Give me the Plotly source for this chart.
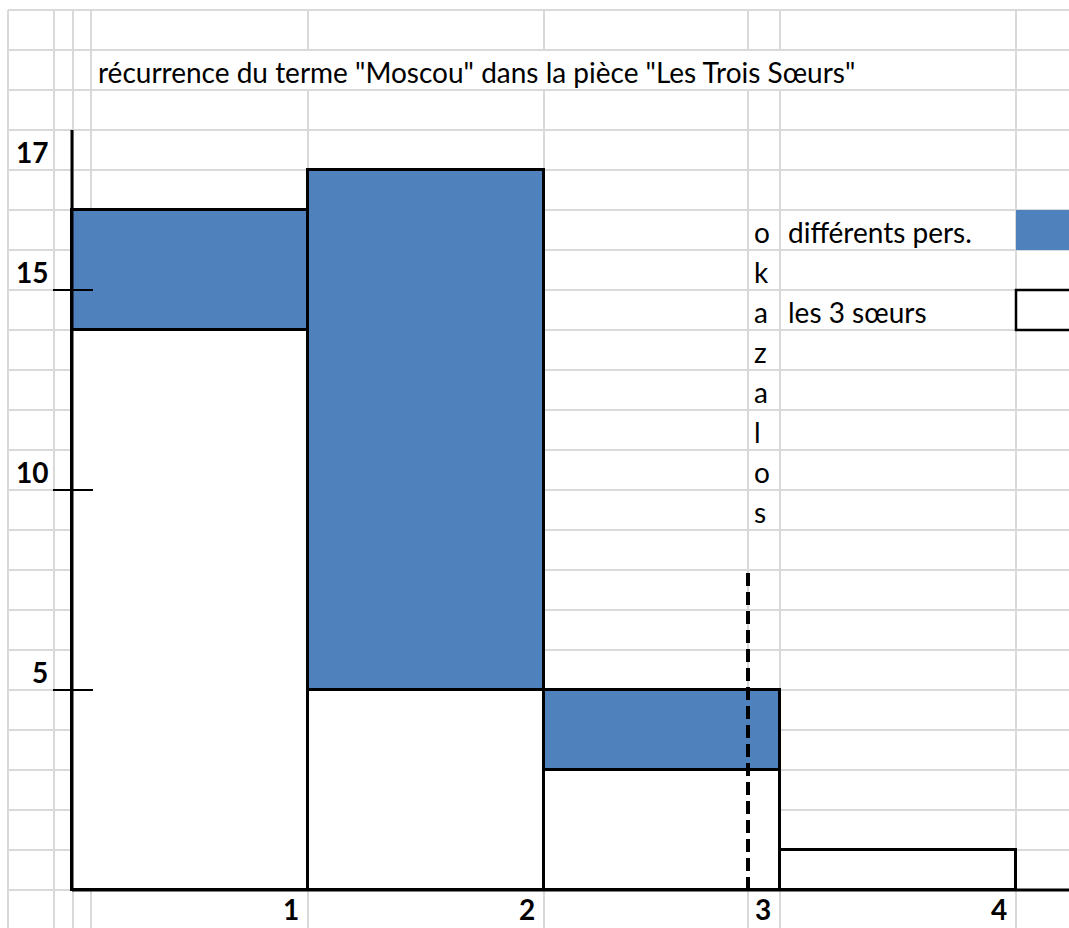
import plotly.graph_objects as go

# ---------------- data ----------------
categories = [1, 2, 3, 4]
les_3_soeurs = [14, 5, 3, 1]
differents_pers = [3, 13, 2, 0]
y_tick_values = [5, 10, 15]
y_label_texts = ["5", "10", "15", "17"]
x_label_texts = ["1", "2", "3", "4"]
title_text = 'récurrence du terme "Moscou" dans la pièce "Les Trois Sœurs"'
vertical_word = "okazalos"
legend_labels = ["différents pers.", "les 3 sœurs"]

# ---------------- layout constants ----------------
W, H = 1069, 928
X0, SX = 72.0, 236.0          # px of x=0, px per unit
Y0, SY = 890.0, 40.0          # px of y=0, px per unit
FONT = "Lato"
BLUE = "#4f81bd"
GRID = "#d9d9d9"

def px(p):
    return p / W

x_range = [(0 - X0) / SX, (W - X0) / SX]
y_range = [(Y0 - H) / SY, Y0 / SY]

fig = go.Figure()
centers = [c - 0.5 for c in categories]
fig.add_trace(go.Bar(x=centers, y=les_3_soeurs, width=1, name=legend_labels[1],
                     marker=dict(color="white", line=dict(color="black", width=2.8))))
fig.add_trace(go.Bar(x=centers, y=differents_pers, width=1, name=legend_labels[0],
                     marker=dict(color=BLUE, line=dict(color="black", width=2.8))))

shapes = []
# horizontal spreadsheet grid (every row)
for r in range(0, 23):
    shapes.append(dict(type="line", xref="paper", yref="y", x0=px(8), x1=1.0, y0=r, y1=r,
                       line=dict(color=GRID, width=2), layer="below"))
# vertical grid: paper-based columns
top = 22
for p in [8, 54, 73, 91]:
    shapes.append(dict(type="line", xref="paper", yref="y", x0=px(p), x1=px(p), y0=top, y1=y_range[0],
                       line=dict(color=GRID, width=2), layer="below"))
# columns that are hidden in the title row
for p in [748]:
    for (a, b) in [(top, 21), (20, y_range[0])]:
        shapes.append(dict(type="line", xref="paper", yref="y", x0=px(p), x1=px(p), y0=a, y1=b,
                           line=dict(color=GRID, width=2), layer="below"))
for c in [1, 2, 3]:
    for (a, b) in [(top, 21), (20, y_range[0])]:
        shapes.append(dict(type="line", xref="x", yref="y", x0=c, x1=c, y0=a, y1=b,
                           line=dict(color=GRID, width=2), layer="below"))
shapes.append(dict(type="line", xref="x", yref="y", x0=4, x1=4, y0=top, y1=y_range[0],
                   line=dict(color=GRID, width=2), layer="below"))

# axes
shapes.append(dict(type="line", xref="x", yref="y", x0=0, x1=0, y0=0, y1=19,
                   line=dict(color="black", width=3), layer="above"))
shapes.append(dict(type="line", xref="x", yref="y", x0=0, x1=x_range[1], y0=0, y1=0,
                   line=dict(color="black", width=3), layer="above"))
for v in y_tick_values:
    shapes.append(dict(type="line", xref="paper", yref="y", x0=px(53), x1=px(93), y0=v, y1=v,
                       line=dict(color="black", width=2), layer="above"))

# dashed marker line
shapes.append(dict(type="line", xref="paper", yref="y", x0=px(748), x1=px(748), y0=0, y1=8,
                   line=dict(color="black", width=4, dash="13px,6px"), layer="above"))

# legend swatches
shapes.append(dict(type="rect", xref="x", yref="y", x0=4, x1=x_range[1] + 0.1, y0=16, y1=17,
                   fillcolor=BLUE, line=dict(width=0), layer="above"))
shapes.append(dict(type="rect", xref="x", yref="y", x0=4, x1=x_range[1] + 0.1, y0=14, y1=15,
                   fillcolor="white", line=dict(color="black", width=2.5), layer="above"))

ann = []
FS = 28
ann.append(dict(text=title_text, xref="paper", yref="y", x=px(96), y=20.5, xanchor="left",
                yanchor="middle", yshift=-2, showarrow=False, font=dict(family=FONT, size=FS, color="black")))
for i, ch in enumerate(vertical_word):
    ann.append(dict(text=ch, xref="paper", yref="y", x=px(752), y=16.5 - i, xanchor="left",
                    yanchor="middle", yshift=-2, showarrow=False, font=dict(family=FONT, size=FS, color="black")))
ann.append(dict(text=legend_labels[0], xref="paper", yref="y", x=px(786), y=16.5, xanchor="left",
                yanchor="middle", yshift=-2, showarrow=False, font=dict(family=FONT, size=FS, color="black")))
ann.append(dict(text=legend_labels[1], xref="paper", yref="y", x=px(786), y=14.5, xanchor="left",
                yanchor="middle", yshift=-2, showarrow=False, font=dict(family=FONT, size=FS, color="black")))

# y labels (spreadsheet cells above the tick rows)
y_label_rows = [5.5, 10.5, 15.5, 18.5]
for t, r in zip(y_label_texts, y_label_rows):
    ann.append(dict(text="<b>%s</b>" % t, xref="paper", yref="y", x=px(50), y=r, xanchor="right",
                    yanchor="middle", yshift=-2, showarrow=False, font=dict(family=FONT, size=FS, color="black")))
# x labels
for c, t in zip(categories, x_label_texts):
    ann.append(dict(text="<b>%s</b>" % t, xref="x", yref="paper", x=c, y=0,
                    xanchor="right", yanchor="bottom", xshift=-7, showarrow=False,
                    font=dict(family=FONT, size=FS, color="black")))

fig.update_layout(
    width=W, height=H, margin=dict(l=0, r=0, t=0, b=0),
    paper_bgcolor="white", plot_bgcolor="white",
    barmode="stack", showlegend=False, bargap=0,
    xaxis=dict(range=x_range, visible=False, fixedrange=True),
    yaxis=dict(range=y_range, visible=False, fixedrange=True),
    shapes=shapes, annotations=ann,
)
fig.write_html("out.html")
